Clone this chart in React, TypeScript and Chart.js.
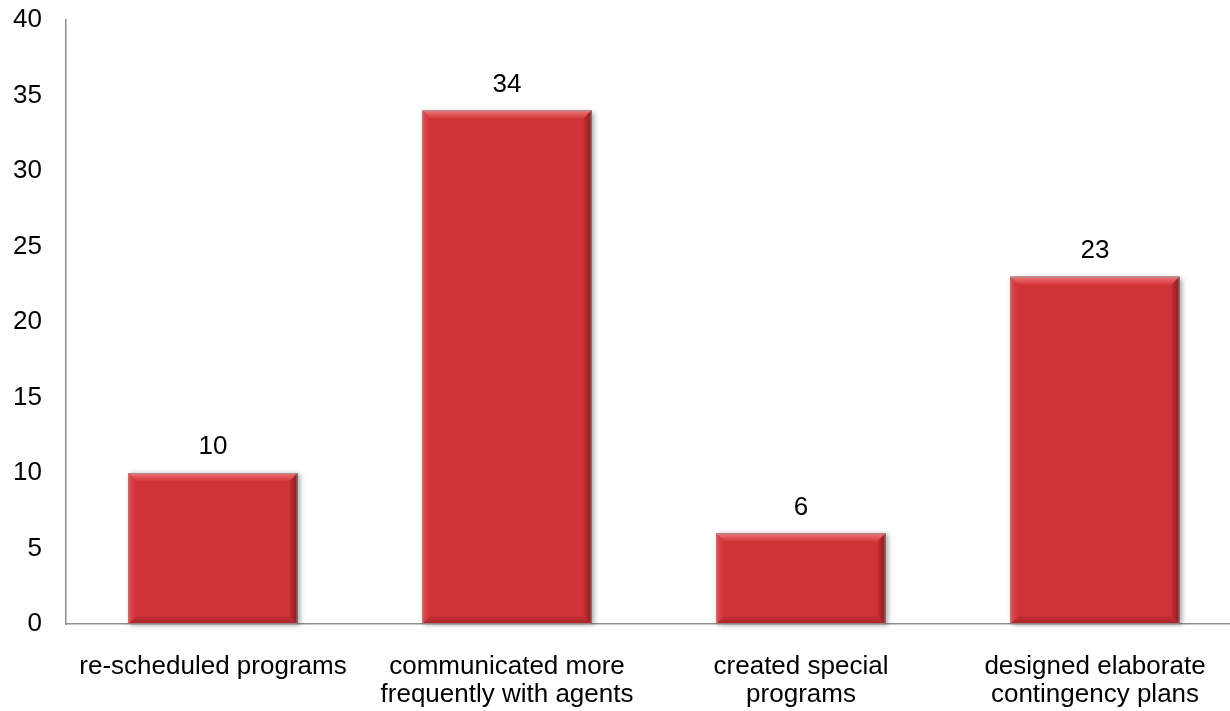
import React, { useEffect, useRef } from "react";
import { Chart, registerables } from "chart.js";

Chart.register(...registerables);

const categories: string[][] = [
  ["re-scheduled programs"],
  ["communicated more", "frequently with agents"],
  ["created special", "programs"],
  ["designed elaborate", "contingency plans"],
];
const values: number[] = [10, 34, 6, 23];
const yMin = 0;
const yMax = 40;
const yStep = 5;

const FONT = "'Liberation Sans', Arial, sans-serif";
const BAR = "#CF3237";

function barRects(chart: any) {
  const meta = chart.getDatasetMeta(0);
  return meta.data.map((el: any) => {
    const p = el.getProps(["x", "y", "base", "width"], true);
    return { l: p.x - p.width / 2, r: p.x + p.width / 2, t: Math.min(p.y, p.base), b: Math.max(p.y, p.base), x: p.x };
  });
}

const bevelPlugin = {
  id: "bevel",
  beforeDatasetsDraw(chart: any) {
    const ctx = chart.ctx;
    ctx.save();
    for (const r of barRects(chart)) {
      ctx.shadowColor = "rgba(0,0,0,0.35)";
      ctx.shadowBlur = 5;
      ctx.shadowOffsetX = 2;
      ctx.shadowOffsetY = 1;
      ctx.fillStyle = BAR;
      ctx.fillRect(r.l, r.t, r.r - r.l, r.b - r.t);
    }
    ctx.restore();
  },
  afterDatasetsDraw(chart: any) {
    const ctx = chart.ctx;
    const s = 8;
    ctx.save();
    for (const r of barRects(chart)) {
      const { l, t, b } = r;
      const rr = r.r;
      // top
      let g = ctx.createLinearGradient(0, t, 0, t + s);
      g.addColorStop(0, "#EE7578");
      g.addColorStop(1, "#D4393D");
      ctx.fillStyle = g;
      ctx.beginPath();
      ctx.moveTo(l, t);
      ctx.lineTo(rr, t);
      ctx.lineTo(rr - s, t + s);
      ctx.lineTo(l + s, t + s);
      ctx.closePath();
      ctx.fill();
      // left
      g = ctx.createLinearGradient(l, 0, l + s, 0);
      g.addColorStop(0, "#DC4C50");
      g.addColorStop(1, "#CF3237");
      ctx.fillStyle = g;
      ctx.beginPath();
      ctx.moveTo(l, t);
      ctx.lineTo(l + s, t + s);
      ctx.lineTo(l + s, b - s);
      ctx.lineTo(l, b);
      ctx.closePath();
      ctx.fill();
      // right
      g = ctx.createLinearGradient(rr - s, 0, rr, 0);
      g.addColorStop(0, "#C42D32");
      g.addColorStop(1, "#8A1C20");
      ctx.fillStyle = g;
      ctx.beginPath();
      ctx.moveTo(rr, t);
      ctx.lineTo(rr, b);
      ctx.lineTo(rr - s, b - s);
      ctx.lineTo(rr - s, t + s);
      ctx.closePath();
      ctx.fill();
      // bottom
      g = ctx.createLinearGradient(0, b - s, 0, b);
      g.addColorStop(0, "#C73034");
      g.addColorStop(1, "#A42428");
      ctx.fillStyle = g;
      ctx.beginPath();
      ctx.moveTo(l, b);
      ctx.lineTo(rr, b);
      ctx.lineTo(rr - s, b - s);
      ctx.lineTo(l + s, b - s);
      ctx.closePath();
      ctx.fill();
      // outline
      ctx.strokeStyle = "rgba(150,150,150,0.8)";
      ctx.lineWidth = 1;
      ctx.strokeRect(l + 0.5, t + 0.5, rr - l - 1, b - t - 1);
    }
    ctx.restore();
  },
};

const labelPlugin = {
  id: "valueLabels",
  afterDatasetsDraw(chart: any) {
    const ctx = chart.ctx;
    const ds = chart.data.datasets[0];
    ctx.save();
    ctx.font = `26px ${FONT}`;
    ctx.fillStyle = "#000";
    ctx.textAlign = "center";
    ctx.textBaseline = "middle";
    barRects(chart).forEach((r: any, i: number) => {
      ctx.fillText(String(ds.data[i]), r.x, r.t - 26);
    });
    ctx.restore();
  },
};

export default function App() {
  const ref = useRef<HTMLCanvasElement | null>(null);
  useEffect(() => {
    document.body.style.margin = "0";
    if (!ref.current) return;
    const chart = new Chart(ref.current, {
      type: "bar",
      data: {
        labels: categories,
        datasets: [
          {
            data: values,
            backgroundColor: BAR,
            borderWidth: 0,
            barPercentage: 0.575,
            categoryPercentage: 1,
          },
        ],
      },
      options: {
        animation: false,
        responsive: false,
        maintainAspectRatio: false,
        devicePixelRatio: 1,
        layout: { padding: { left: 0, right: 8, top: 20, bottom: 0 } },
        plugins: { legend: { display: false }, tooltip: { enabled: false }, title: { display: false } },
        scales: {
          x: {
            grid: { display: false, drawTicks: false },
            border: { display: true, color: "#8E8E8E", width: 1.5 },
            ticks: { color: "#000", font: { family: FONT, size: 26, lineHeight: 1.08 }, padding: 29, maxRotation: 0, autoSkip: false },
            afterFit(scale: any) {
              scale.height = 87;
              scale.paddingLeft = 0;
              scale.paddingRight = 0;
            },
          },
          y: {
            min: yMin,
            max: yMax,
            grid: { display: false, drawTicks: false },
            border: { display: true, color: "#8E8E8E", width: 1.5 },
            ticks: { stepSize: yStep, color: "#000", font: { family: FONT, size: 26 }, padding: 24 },
            afterFit(scale: any) {
              scale.width = 66;
              scale.paddingTop = 0;
              scale.paddingBottom = 0;
            },
          },
        },
      },
      plugins: [bevelPlugin, labelPlugin],
    });
    return () => chart.destroy();
  }, []);
  return (
    <div style={{ position: "absolute", left: 0, top: 0, width: 1230, height: 711, overflow: "hidden", background: "#fff" }}>
      <canvas ref={ref} width={1250} height={711} style={{ display: "block", width: 1250, height: 711 }} />
    </div>
  );
}
